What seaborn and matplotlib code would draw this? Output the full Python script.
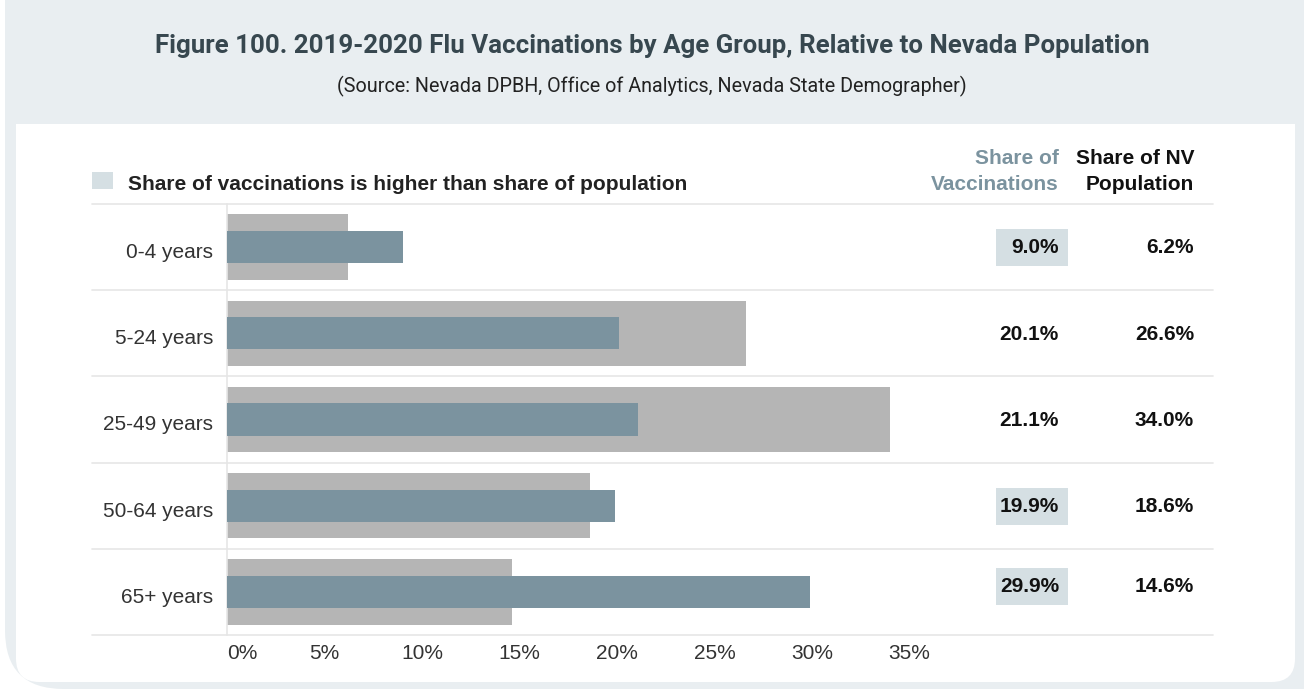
import matplotlib
matplotlib.use("Agg")
import matplotlib.pyplot as plt
import matplotlib.transforms as mtransforms
from matplotlib.patches import FancyBboxPatch, Rectangle
import seaborn as sns
import pandas as pd

# ---- data ----
age_groups = ["0-4 years", "5-24 years", "25-49 years", "50-64 years", "65+ years"]
share_vaccinations = [9.0, 20.1, 21.1, 19.9, 29.9]
share_population = [6.2, 26.6, 34.0, 18.6, 14.6]
x_ticks = [0, 5, 10, 15, 20, 25, 30, 35]
x_tick_labels = ["0%", "5%", "10%", "15%", "20%", "25%", "30%", "35%"]

title = "Figure 100. 2019-2020 Flu Vaccinations by Age Group, Relative to Nevada Population"
subtitle = "(Source: Nevada DPBH, Office of Analytics, Nevada State Demographer)"
legend_label = "Share of vaccinations is higher than share of population"
col_vac_header = ["Share of", "Vaccinations"]
col_pop_header = ["Share of NV", "Population"]

df = pd.DataFrame({"age": age_groups, "vac": share_vaccinations, "pop": share_population})

# ---- style ----
sns.set_theme(style="white")
plt.rcParams["font.family"] = ["Liberation Sans", "DejaVu Sans"]

W, H = 1304, 689
LIGHT = "#e9eef1"
HILITE = "#d5dfe3"
GRAY = "#b5b5b5"
BLUE = "#7b939f"
LINE = "#e6e6e6"
FS = 15

fig = plt.figure(figsize=(W / 100, H / 100), dpi=100)
fig.patch.set_facecolor("white")

def fx(px):
    return px / W

def fy(py):
    return 1 - py / H

# background panels (figure coords)
fig.patches.append(FancyBboxPatch((fx(5), fy(689)), fx(1360) - fx(5), fy(-60) - fy(689),
                                  boxstyle="round,pad=0,rounding_size=0.045",
                                  transform=fig.transFigure, facecolor=LIGHT, edgecolor="none",
                                  zorder=0, mutation_aspect=W / H))
fig.patches.append(FancyBboxPatch((fx(16), fy(682)), fx(1295) - fx(16), fy(90) - fy(682),
                                  boxstyle="round,pad=0,rounding_size=0.018",
                                  transform=fig.transFigure, facecolor="white", edgecolor="none",
                                  zorder=1, mutation_aspect=W / H))
fig.patches.append(Rectangle((fx(5), fy(124)), fx(1304) - fx(5), fy(0) - fy(124),
                             transform=fig.transFigure, facecolor=LIGHT, edgecolor="none", zorder=2))

# titles
fig.text(0.5, fy(46), title, ha="center", va="center", fontsize=18.6, fontweight="bold",
         color="#37474f", family=["Roboto", "DejaVu Sans"], zorder=5)
fig.text(0.5, fy(86), subtitle, ha="center", va="center", fontsize=14.2,
         color="#222222", family=["Roboto", "DejaVu Sans"], zorder=5)

# axes: x=0 at px 227, 35% at px 909.5 ; rows from 204 to 635
ax_left, ax_right = 227, 909.5
ax_top, ax_bottom = 204, 635
ax = fig.add_axes([fx(ax_left), fy(ax_bottom), fx(ax_right) - fx(ax_left), (ax_bottom - ax_top) / H])
ax.set_facecolor("none")
ax.set_zorder(5)

sns.barplot(data=df, x="pop", y="age", orient="h", color=GRAY, width=0.76,
            saturation=1, errorbar=None, ax=ax, zorder=2, linewidth=0, edgecolor="none")
sns.barplot(data=df, x="vac", y="age", orient="h", color=BLUE, width=0.375,
            saturation=1, errorbar=None, ax=ax, zorder=3, linewidth=0, edgecolor="none")

ax.set_xlim(0, 35)
ax.set_ylim(len(age_groups) - 0.5, -0.5)
ax.set_xlabel("")
ax.set_ylabel("")
ax.set_xticks(x_ticks)
ax.set_xticklabels(x_tick_labels)
ax.get_xticklabels()[0].set_horizontalalignment("left")
ax.tick_params(axis="x", length=0, pad=6.5, labelsize=FS, labelcolor="#333333")
ax.tick_params(axis="y", length=0, pad=10, labelsize=FS, labelcolor="#333333")
shift = mtransforms.ScaledTranslation(0, -3.5 / 100, fig.dpi_scale_trans)
for lab in ax.get_yticklabels():
    lab.set_transform(lab.get_transform() + shift)
for s in ["top", "right", "bottom"]:
    ax.spines[s].set_visible(False)
ax.spines["left"].set_color(LINE)
ax.spines["left"].set_linewidth(1.2)

ax_w = ax_right - ax_left
for yb in [i - 0.5 for i in range(len(age_groups) + 1)]:
    ax.axhline(yb, xmin=(92 - ax_left) / ax_w, xmax=(1213 - ax_left) / ax_w,
               color=LINE, linewidth=1.2, clip_on=False, zorder=1)

# value table (independent layout rows, as in the original HTML table)
table_row_px = [247.5, 335, 421, 506.5, 586.5]
for ypx, v, p in zip(table_row_px, share_vaccinations, share_population):
    if v > p:
        fig.patches.append(Rectangle((fx(996), fy(ypx + 18.5)), fx(1068) - fx(996), 37 / H,
                                     transform=fig.transFigure, facecolor=HILITE,
                                     edgecolor="none", zorder=4))
    fig.text(fx(1059), fy(ypx), f"{v:.1f}%", ha="right", va="center", fontsize=FS,
             fontweight="bold", color="#111111", zorder=6)
    fig.text(fx(1194), fy(ypx), f"{p:.1f}%", ha="right", va="center", fontsize=FS,
             fontweight="bold", color="#111111", zorder=6)

# column headers
for k, ypx in enumerate([159, 184]):
    fig.text(fx(1059), fy(ypx), col_vac_header[k], ha="right", va="center", fontsize=FS,
             fontweight="bold", color=BLUE, zorder=5)
    fig.text(fx(1194), fy(ypx), col_pop_header[k], ha="right", va="center", fontsize=FS,
             fontweight="bold", color="#111111", zorder=5)

# legend
fig.patches.append(Rectangle((fx(92), fy(189)), fx(113) - fx(92), (189 - 172) / H,
                             transform=fig.transFigure, facecolor=HILITE, edgecolor="none", zorder=5))
fig.text(fx(128), fy(184), legend_label, ha="left", va="center", fontsize=FS,
         fontweight="bold", color="#222222", zorder=5)

fig.savefig("out.png", dpi=100, facecolor=fig.get_facecolor())
